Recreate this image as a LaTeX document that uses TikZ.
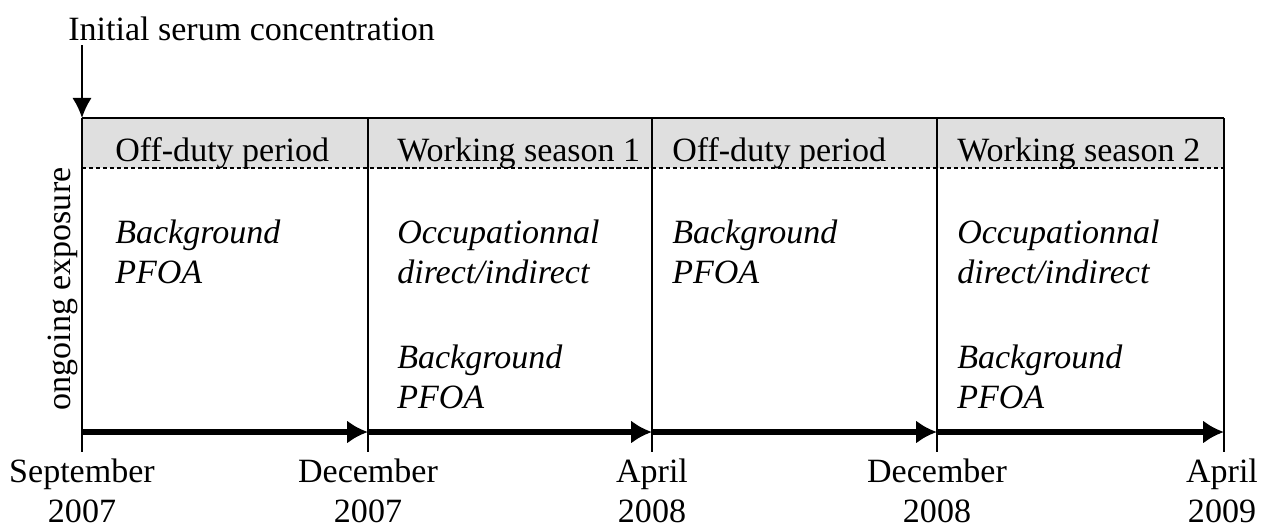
\documentclass[tikz,border=0pt]{standalone}
\usepackage{fontspec}
\setmainfont{Liberation Serif}
\usetikzlibrary{arrows.meta}
\begin{document}
\begin{tikzpicture}[x=0.025cm, y=-0.025cm,
  txt/.style={font=\fontsize{24.2}{29}\selectfont, inner sep=0pt, anchor=base west},
  itxt/.style={txt, font=\fontsize{24.2}{29}\selectfont\itshape},
  date/.style={font=\fontsize{24.2}{29}\selectfont, inner sep=0pt, anchor=base},
  divider/.style={line width=2pt},
  axis/.style={line width=4.5pt, -{Latex[length=0.52cm, width=0.58cm]}}]
    \useasboundingbox (0,0) rectangle (1262,527);

    % Header band
    \path (82,168) coordinate (h0) (1224,168) coordinate (h4);
    \fill[gray!25] (82,118) rectangle (h4);
    \draw[line width=1.3pt, dash pattern=on 3pt off 2pt] (h0) -- (h4);

    % Dividers
    \foreach \x [count=\i from 0] in {82, 368, 652, 937, 1224} {
      \path (\x, 118) coordinate (t\i);
      \path (\x, 432) coordinate (a\i);
      \path (\x, 452) coordinate (b\i);
      \draw[divider] (t\i) -- (b\i);
    }
    \draw[divider] (t0) -- (t4);

    % Initial concentration
    \node[txt] (init) at (68,40) {Initial serum concentration};
    \path (82,45) coordinate (s0);
    \draw[line width=1.4pt, -{Latex[length=0.5cm, width=0.48cm]}] (s0) -- (t0);

    % Column headers
    \foreach \x/\lbl [count=\i] in {115/Off-duty period, 397/Working season 1,
                                   672/Off-duty period, 957/Working season 2} {
      \node[txt] (head\i) at (\x,161) {\lbl};
    }

    % Exposure sources
    \foreach \x [count=\i] in {115, 672} {
      \node[itxt] (bgA\i) at (\x,243) {Background};
      \node[itxt] (bgB\i) at (\x,283) {PFOA};
    }
    \foreach \x [count=\i] in {397, 957} {
      \node[itxt] (occA\i) at (\x,243) {Occupationnal};
      \node[itxt] (occB\i) at (\x,283) {direct/indirect};
      \node[itxt] (bgC\i) at (\x,368) {Background};
      \node[itxt] (bgD\i) at (\x,408) {PFOA};
    }

    \node[date, rotate=90] (expo) at (70,289) {ongoing exposure};

    % Time axis
    \foreach \i/\j in {0/1, 1/2, 2/3, 3/4} {
      \draw[axis] (a\i) -- (a\j);
    }

    % Dates
    \foreach \x/\m/\y [count=\i] in {82/September/2007, 368/December/2007,
                                     652/April/2008, 937/December/2008, 1222/April/2009} {
      \node[date] (mon\i) at (\x,482) {\m};
      \node[date] (yr\i) at (\x,522) {\y};
    }
\end{tikzpicture}
\end{document}
